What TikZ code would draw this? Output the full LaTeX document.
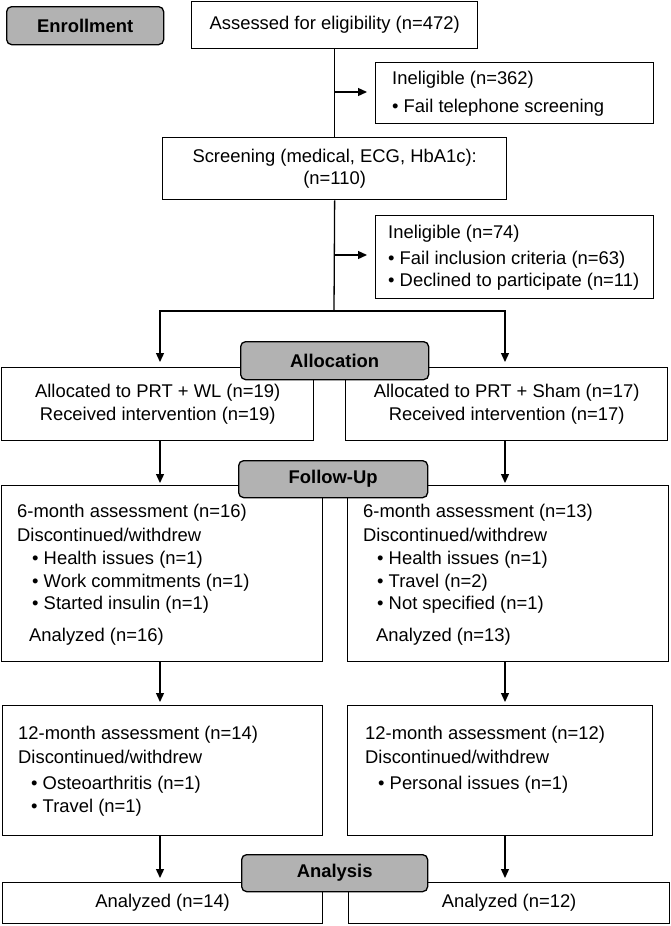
\documentclass[tikz,border=0pt]{standalone}
\usepackage{fontspec}
\setmainfont{Liberation Sans}
\usetikzlibrary{arrows.meta}
\definecolor{phasegray}{RGB}{178,178,178}
\newcommand{\mainfs}{\fontsize{18.4}{22.5}\selectfont}
\tikzset{
  box/.style={draw, line width=1.3pt, inner sep=0pt, anchor=north west, fill=white, align=center, font=\mainfs},
  phase/.style={draw, line width=1.3pt, rounded corners=5pt, fill=phasegray, inner sep=0pt, anchor=north west, font=\bfseries\mainfs},
  txt/.style={anchor=west, inner sep=0pt, font=\mainfs},
  ln/.style={line width=1.3pt},
  arr/.style={line width=1.3pt, -{Triangle[length=9pt,width=8pt]}}
}
\begin{document}
\begin{tikzpicture}[x=1pt,y=-1pt]
\useasboundingbox (0,0) rectangle (670,926);
% boxes
\node[box, minimum width=286pt, minimum height=47pt] (assess) at (191,1) {Assessed for eligibility (n=472)};
\node[box, minimum width=278pt, minimum height=61pt] (inel1) at (375,62) {};
\node[box, minimum width=344pt, minimum height=62pt] (screen) at (162,137) {Screening (medical, ECG, HbA1c):\\(n=110)};
\node[box, minimum width=278pt, minimum height=83pt] (inel2) at (375,215) {};
\node[box, minimum width=312pt, minimum height=73pt] (allocL) at (1,367) {Allocated to PRT + WL (n=19)\\Received intervention (n=19)};
\node[box, minimum width=322pt, minimum height=73pt] (allocR) at (345,367) {Allocated to PRT + Sham (n=17)\\Received intervention (n=17)};
\node[box, minimum width=321pt, minimum height=176pt] (fuL) at (1,485) {};
\node[box, minimum width=321pt, minimum height=176pt] (fuR) at (347,485) {};
\node[box, minimum width=320pt, minimum height=130pt] (mL) at (2,705) {};
\node[box, minimum width=305pt, minimum height=130pt] (mR) at (347,705) {};
\node[box, minimum width=320pt, minimum height=41pt] (anL) at (2,882) {Analyzed (n=14)};
\node[box, minimum width=321pt, minimum height=41pt] (anR) at (348,882) {Analyzed (n=12)};
% phase labels
\node[phase, minimum width=157pt, minimum height=38pt] (enroll) at (6,6) {Enrollment};
\node[phase, minimum width=188pt, minimum height=38pt] (allocation) at (240,341) {Allocation};
\node[phase, minimum width=189pt, minimum height=37pt] (followup) at (238,460) {Follow-Up};
\node[phase, minimum width=186pt, minimum height=37pt] (analysis) at (241,854) {Analysis};
% texts
\node[txt] (t1a) at (392,80) {Ineligible (n=362)};
\node[txt] (t1b) at (392,108) {• Fail telephone screening};
\node[txt] (t2a) at (388,234) {Ineligible (n=74)};
\node[txt] (t2b) at (388,260) {• Fail inclusion criteria (n=63)};
\node[txt] (t2c) at (388,282) {• Declined to participate (n=11)};
\node[txt] (fl1) at (17,513) {6-month assessment (n=16)};
\node[txt] (fl2) at (17,535) {Discontinued/withdrew};
\node[txt] (fl3) at (32,560) {• Health issues (n=1)};
\node[txt] (fl4) at (32,583) {• Work commitments (n=1)};
\node[txt] (fl5) at (32,605) {• Started insulin (n=1)};
\node[txt] (fl6) at (29,637) {Analyzed (n=16)};
\node[txt] (fr1) at (363,513) {6-month assessment (n=13)};
\node[txt] (fr2) at (363,535) {Discontinued/withdrew};
\node[txt] (fr3) at (377,560) {• Health issues (n=1)};
\node[txt] (fr4) at (377,583) {• Travel (n=2)};
\node[txt] (fr5) at (377,605) {• Not specified (n=1)};
\node[txt] (fr6) at (376,637) {Analyzed (n=13)};
\node[txt] (ml1) at (18,735) {12-month assessment (n=14)};
\node[txt] (ml2) at (18,757) {Discontinued/withdrew};
\node[txt] (ml3) at (31,785) {• Osteoarthritis (n=1)};
\node[txt] (ml4) at (31,808) {• Travel (n=1)};
\node[txt] (mr1) at (365,735) {12-month assessment (n=12)};
\node[txt] (mr2) at (365,757) {Discontinued/withdrew};
\node[txt] (mr3) at (378,785) {• Personal issues (n=1)};
% connectors
\coordinate (cL) at (160,0);
\coordinate (cR) at (505,0);
\coordinate (a1) at (334,92);
\coordinate (a2) at (334,255);
\coordinate (br) at (334,311);
\draw[ln] (assess.south) -- (screen.north);
\draw[ln] (screen.south) -- (br);
\draw[arr, shorten >=8pt] (a1) -- (a1 -| inel1.west);
\draw[arr, shorten >=8pt] (a2) -- (a2 -| inel2.west);
\draw[arr, shorten >=5pt] (br) -| (allocL.north -| cL);
\draw[arr, shorten >=5pt] (br) -| (allocR.north -| cR);
\draw[arr, shorten >=2pt] (allocL.south -| cL) -- (fuL.north -| cL);
\draw[arr, shorten >=2pt] (allocR.south -| cR) -- (fuR.north -| cR);
\draw[arr, shorten >=3pt] (fuL.south -| cL) -- (mL.north -| cL);
\draw[arr, shorten >=3pt] (fuR.south -| cR) -- (mR.north -| cR);
\draw[arr, shorten >=4pt] (mL.south -| cL) -- (anL.north -| cL);
\draw[arr, shorten >=4pt] (mR.south -| cR) -- (anR.north -| cR);
\end{tikzpicture}
\end{document}
